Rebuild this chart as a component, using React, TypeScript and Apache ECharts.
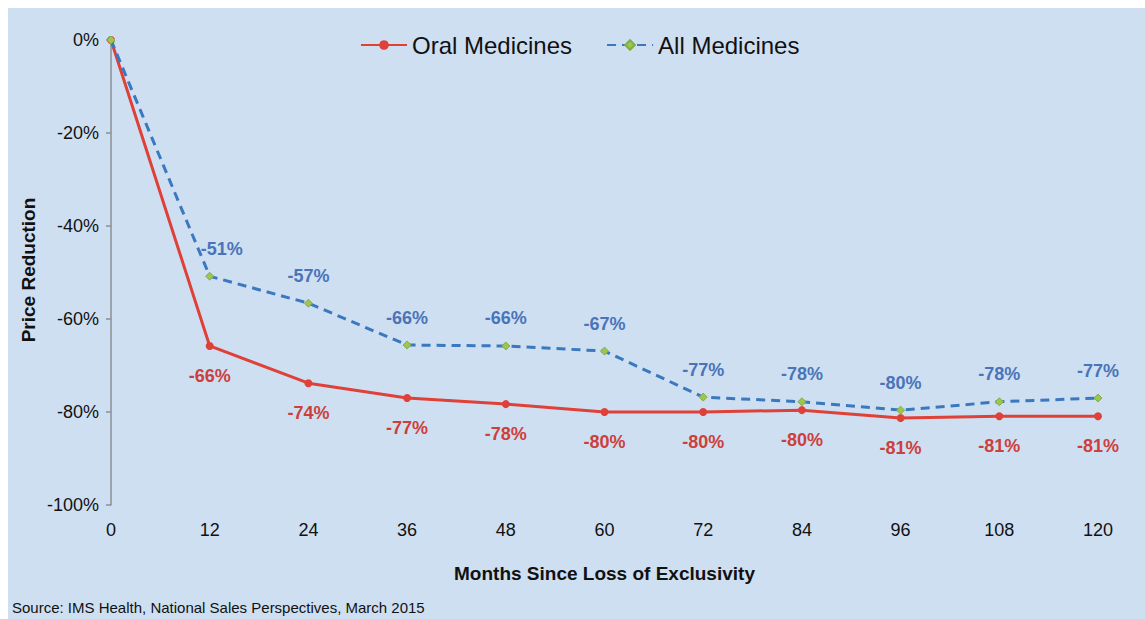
import React, { useEffect, useRef } from "react";
import * as echarts from "echarts";

const months = [0, 12, 24, 36, 48, 60, 72, 84, 96, 108, 120];
const oralMedicines = [0, -65.8, -73.8, -77.0, -78.3, -80.0, -80.0, -79.6, -81.3, -80.9, -80.9];
const allMedicines = [0, -50.8, -56.6, -65.6, -65.8, -66.9, -76.8, -77.8, -79.6, -77.8, -77.0];
const yTicks = [-100, -80, -60, -40, -20, 0];

const FONT = "'Liberation Sans', Arial, sans-serif";

export default function App() {
  const ref = useRef<HTMLDivElement>(null);
  useEffect(() => {
    if (!ref.current) return;
    const chart = echarts.init(ref.current, null, { renderer: "svg" });
    const labelFmt = (p: any) => (p.value[0] === 0 ? "" : `${Math.round(p.value[1])}%`);
    chart.setOption({
      animation: false,
      backgroundColor: "#cfdff2",
      textStyle: { fontFamily: FONT },
      legend: {
        top: 20,
        left: 347,
        itemWidth: 46,
        itemHeight: 12,
        itemGap: 34,
        textStyle: { fontSize: 24, color: "#111", fontFamily: FONT, padding: [0, 0, 0, 0] },
        data: ["Oral Medicines", "All Medicines"],
      },
      grid: { left: 103, right: 47, top: 32, bottom: 114, containLabel: false },
      xAxis: {
        type: "value",
        min: 0,
        max: 120,
        interval: 12,
        axisLine: { show: false },
        axisTick: { show: false },
        splitLine: { show: false },
        axisLabel: { fontSize: 18, color: "#111", margin: 16, fontFamily: FONT },
        name: "Months Since Loss of Exclusivity",
        nameLocation: "middle",
        nameGap: 59,
        nameTextStyle: { fontSize: 19, fontWeight: "bold", color: "#111", fontFamily: FONT },
      },
      yAxis: {
        type: "value",
        min: yTicks[0],
        max: yTicks[yTicks.length - 1],
        interval: 20,
        axisLine: { show: true, lineStyle: { color: "#8a8f96", width: 1.5 } },
        axisTick: { show: true, length: 5, lineStyle: { color: "#8a8f96", width: 1.5 } },
        splitLine: { show: false },
        axisLabel: { fontSize: 18, color: "#111", margin: 12, formatter: (v: number) => `${v}%`, fontFamily: FONT },
      },
      graphic: [
        {
          type: "text",
          x: 20,
          y: 262,
          rotation: Math.PI / 2,
          style: {
            text: "Price Reduction",
            fontSize: 19,
            fontWeight: "bold",
            fill: "#111",
            fontFamily: FONT,
            textAlign: "center",
            textVerticalAlign: "middle",
          },
        },
        {
          type: "text",
          left: 4,
          top: 592,
          style: {
            text: "Source: IMS Health, National Sales Perspectives, March 2015",
            fontSize: 15,
            fill: "#111",
            fontFamily: FONT,
          },
        },
      ],
      series: [
        {
          name: "Oral Medicines",
          type: "line",
          data: months.map((m, i) => [m, oralMedicines[i]]),
          color: "#df4138",
          symbol: "circle",
          symbolSize: 8,
          lineStyle: { width: 3, color: "#df4138" },
          itemStyle: { color: "#df4138" },
          label: {
            show: true,
            position: "bottom",
            distance: 17,
            fontSize: 18,
            fontWeight: "bold",
            color: "#cc3f3c",
            fontFamily: FONT,
            formatter: labelFmt,
          },
          z: 3,
        },
        {
          name: "All Medicines",
          type: "line",
          data: months.map((m, i) => ({
            value: [m, allMedicines[i]],
            label: i === 1 ? { offset: [12, 0] } : undefined,
          })),
          color: "#3a78bf",
          symbol: "diamond",
          symbolSize: 8,
          lineStyle: { width: 3, color: "#3a78bf", type: [9, 6] },
          itemStyle: { color: "#9cc64e", borderColor: "#7fae44", borderWidth: 1 },
          label: {
            show: true,
            position: "top",
            distance: 14,
            fontSize: 18,
            fontWeight: "bold",
            color: "#4a74b8",
            fontFamily: FONT,
            formatter: labelFmt,
          },
          z: 4,
        },
      ],
    });
    return () => chart.dispose();
  }, []);
  return (
    <div
      ref={ref}
      style={{ position: "absolute", left: 8, top: 8, width: 1137, height: 611 }}
    />
  );
}
